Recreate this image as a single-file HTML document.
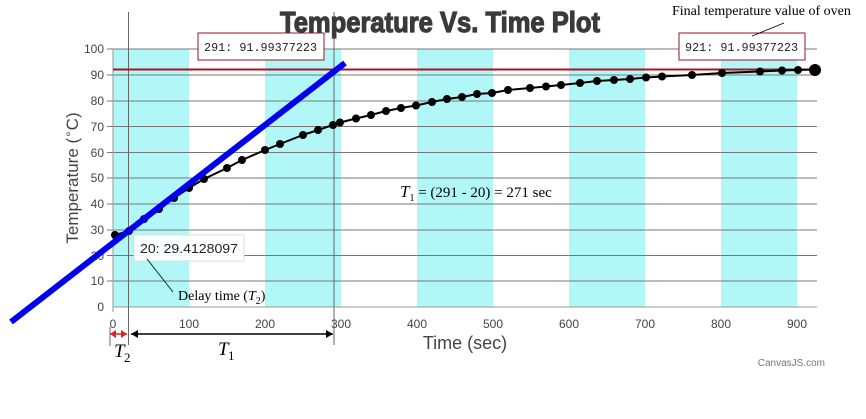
<!DOCTYPE html>
<html><head><meta charset="utf-8"><style>
body{margin:0;background:#fff;width:866px;height:414px;overflow:hidden}
</style></head><body>
<svg width="866" height="414" xmlns="http://www.w3.org/2000/svg" font-family="Liberation Sans, sans-serif">
<g fill="#b2f7f7">
<rect x="113" y="49" width="76" height="258"/>
<rect x="265" y="49" width="76" height="258"/>
<rect x="417" y="49" width="76" height="258"/>
<rect x="569" y="49" width="76" height="258"/>
<rect x="721" y="49" width="76" height="258"/>
</g>
<g stroke="#777" stroke-width="1">
<line x1="107" y1="49" x2="817" y2="49"/><line x1="107" y1="75" x2="817" y2="75"/>
<line x1="107" y1="101" x2="817" y2="101"/><line x1="107" y1="126.5" x2="817" y2="126.5"/>
<line x1="107" y1="152.5" x2="817" y2="152.5"/><line x1="107" y1="178" x2="817" y2="178"/>
<line x1="107" y1="204" x2="817" y2="204"/><line x1="107" y1="230" x2="817" y2="230"/>
<line x1="107" y1="255.5" x2="817" y2="255.5"/><line x1="107" y1="281" x2="817" y2="281"/>
<line x1="113" y1="307" x2="817" y2="307" stroke="#999"/>
<line x1="113" y1="49" x2="113" y2="312" stroke="#999"/>
<line x1="128.5" y1="12" x2="128.5" y2="345" stroke="#666"/>
<line x1="334" y1="12" x2="334" y2="345" stroke="#666"/>
</g>
<g font-size="12" fill="#444" text-anchor="end">
<text x="104" y="53">100</text><text x="104" y="79">90</text><text x="104" y="105">80</text>
<text x="104" y="131">70</text><text x="104" y="157">60</text><text x="104" y="182">50</text>
<text x="104" y="208">40</text><text x="104" y="234">30</text><text x="104" y="260">20</text>
<text x="104" y="285">10</text><text x="104" y="311">0</text>
</g>
<g font-size="12" fill="#444" text-anchor="middle">
<text x="113" y="328">0</text><text x="189" y="328">100</text><text x="265" y="328">200</text>
<text x="341" y="328">300</text><text x="417" y="328">400</text><text x="493" y="328">500</text>
<text x="569" y="328">600</text><text x="645" y="328">700</text><text x="721" y="328">800</text><text x="797" y="328">900</text>
</g>
<line x1="113" y1="69.5" x2="817" y2="69.5" stroke="#b01020" stroke-width="2"/>
<polyline fill="none" stroke="#000" stroke-width="2" points="115,235 129,231 144,219 159,209 174,198 189,188 204,179 227,168 242,160 265,150 280,144 303,135 318,130 333,125 340,122.5 356,118.5 371,115 386,111 401,108 416,105.5 432,102 447,99 462,97 477,94 492,93 508,90 530,88 546,86.5 561,85 580,83 597,81 614,80 630,79 646,77.5 662,76.5 692,75 722,73 760,71.5 782,70.5 798,70 814,69.5"/>
<g fill="#000">
<circle cx="115" cy="235" r="4"/><circle cx="129" cy="231" r="4"/><circle cx="144" cy="219" r="4"/><circle cx="159" cy="209" r="4"/><circle cx="174" cy="198" r="4"/><circle cx="189" cy="188" r="4"/><circle cx="204" cy="179" r="4"/><circle cx="227" cy="168" r="4"/><circle cx="242" cy="160" r="4"/><circle cx="265" cy="150" r="4"/><circle cx="280" cy="144" r="4"/><circle cx="303" cy="135" r="4"/><circle cx="318" cy="130" r="4"/><circle cx="333" cy="125" r="4"/><circle cx="340" cy="122.5" r="4"/><circle cx="356" cy="118.5" r="4"/><circle cx="371" cy="115" r="4"/><circle cx="386" cy="111" r="4"/><circle cx="401" cy="108" r="4"/><circle cx="416" cy="105.5" r="4"/><circle cx="432" cy="102" r="4"/><circle cx="447" cy="99" r="4"/><circle cx="462" cy="97" r="4"/><circle cx="477" cy="94" r="4"/><circle cx="492" cy="93" r="4"/><circle cx="508" cy="90" r="4"/><circle cx="530" cy="88" r="4"/><circle cx="546" cy="86.5" r="4"/><circle cx="561" cy="85" r="4"/><circle cx="580" cy="83" r="4"/><circle cx="597" cy="81" r="4"/><circle cx="614" cy="80" r="4"/><circle cx="630" cy="79" r="4"/><circle cx="646" cy="77.5" r="4"/><circle cx="662" cy="76.5" r="4"/><circle cx="692" cy="75" r="4"/><circle cx="722" cy="73" r="4"/><circle cx="760" cy="71.5" r="4"/><circle cx="782" cy="70.5" r="4"/><circle cx="798" cy="70" r="4"/><circle cx="815" cy="70" r="6"/>
</g>
<line x1="11" y1="322" x2="345" y2="63" stroke="#0000ee" stroke-width="6"/>
<rect x="198" y="33" width="126" height="27" fill="#fff" stroke="#a01020" stroke-width="1"/>
<text x="204" y="51" font-family="Liberation Mono, monospace" font-size="12" fill="#222" textLength="113" lengthAdjust="spacingAndGlyphs">291: 91.99377223</text>
<rect x="679" y="33" width="126" height="27" fill="#fff" stroke="#a01020" stroke-width="1"/>
<text x="685" y="51" font-family="Liberation Mono, monospace" font-size="12" fill="#222" textLength="113" lengthAdjust="spacingAndGlyphs">921: 91.99377223</text>
<rect x="134" y="235" width="110" height="26" fill="#fff" fill-opacity="0.9" stroke="#ddd"/>
<text x="140" y="253" font-size="13" fill="#222" textLength="98" lengthAdjust="spacingAndGlyphs">20: 29.4128097</text>
<line x1="147" y1="259" x2="173" y2="292" stroke="#000" stroke-width="0.8"/>
<line x1="752" y1="36" x2="784" y2="23" stroke="#000" stroke-width="0.8"/>
<text x="178" y="300" font-family="Liberation Serif, serif" font-size="14" fill="#000">Delay time (<tspan font-style="italic">T</tspan><tspan font-size="10" dy="4">2</tspan><tspan dy="-4">)</tspan></text>
<text x="672" y="15" font-family="Liberation Serif, serif" font-size="14" fill="#000">Final temperature value of oven</text>
<text x="400" y="197" font-family="Liberation Serif, serif" font-size="15" fill="#000"><tspan font-style="italic" font-size="17">T</tspan><tspan font-size="10" dy="4">1</tspan><tspan dy="-4"> = (291 - 20) = 271 sec</tspan></text>
<line x1="110" y1="334" x2="127" y2="334" stroke="#e02020" stroke-width="1.5"/>
<path d="M110,334 l6,-4 v8z M127,334 l-6,-4 v8z" fill="#e02020"/>
<line x1="110" y1="327" x2="110" y2="346" stroke="#666"/>
<line x1="131" y1="334" x2="333" y2="334" stroke="#000" stroke-width="1.5"/>
<path d="M131,334 l7,-4 v8z M333,334 l-7,-4 v8z" fill="#000"/>
<text x="114" y="357" font-family="Liberation Serif, serif" font-size="19" font-style="italic">T</text><text x="124" y="362" font-family="Liberation Serif, serif" font-size="13">2</text>
<text x="218" y="355" font-family="Liberation Serif, serif" font-size="19" font-style="italic">T</text><text x="228" y="360" font-family="Liberation Serif, serif" font-size="13">1</text>
<text x="465" y="349" font-size="18" fill="#444" text-anchor="middle">Time (sec)</text>
<text transform="translate(78,178) rotate(-90)" font-size="17" fill="#444" text-anchor="middle">Temperature (<tspan font-size="12" dy="-6">∘</tspan><tspan dy="6">C)</tspan></text>
<text x="440" y="32" font-size="29" font-weight="bold" fill="#3a3a3a" stroke="#3a3a3a" stroke-width="1.2" text-anchor="middle" font-family="Liberation Sans Narrow, Liberation Sans, sans-serif" textLength="320" lengthAdjust="spacingAndGlyphs">Temperature Vs. Time Plot</text>
<text x="825" y="366" font-size="10" fill="#777" text-anchor="end">CanvasJS.com</text>
</svg>
</body></html>
